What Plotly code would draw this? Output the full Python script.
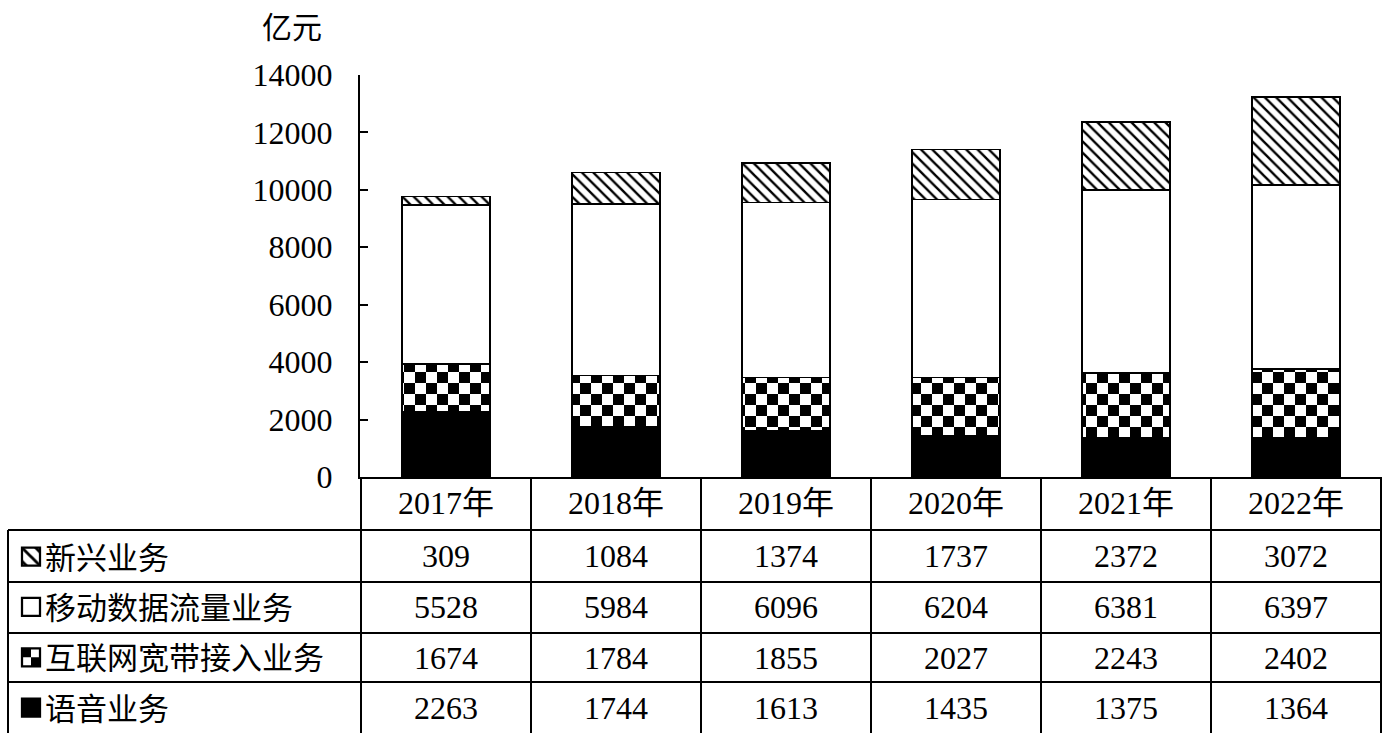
import plotly.graph_objects as go

years = ["2017年", "2018年", "2019年", "2020年", "2021年", "2022年"]
series_names = ["语音业务", "互联网宽带接入业务", "移动数据流量业务", "新兴业务"]
voice = [2263, 1744, 1613, 1435, 1375, 1364]
broadband = [1674, 1784, 1855, 2027, 2243, 2402]
mobile_data = [5528, 5984, 6096, 6204, 6381, 6397]
emerging = [309, 1084, 1374, 1737, 2372, 3072]
y_ticks = [0, 2000, 4000, 6000, 8000, 10000, 12000, 14000]
unit_label = "亿元"

W, H = 1389, 733
ML, MR, MT, MB = 360, 7, 75, 256
PH = H - MT - MB
PW = W - ML - MR

def py(p):
    return (H - MB - p) / PH

def px(p):
    return (p - ML) / PW

serif = "Liberation Serif, Noto Sans CJK SC"
cjk = "Noto Sans CJK SC"
line = dict(color="black", width=1.5)

fig = go.Figure()
fig.add_trace(go.Bar(x=years, y=voice, name=series_names[0], legendgroup="a", legendrank=4,
                     marker=dict(color="black", line=line)))
fig.add_trace(go.Bar(x=years, y=broadband, name=series_names[1], legendgroup="b", legendrank=3,
                     marker=dict(color="white", line=line,
                                 pattern=dict(shape="+", fgcolor="rgb(1,1,1)", bgcolor="white",
                                              size=11, solidity=0.5, fillmode="replace"))))
fig.add_trace(go.Bar(x=years, y=mobile_data, name=series_names[2], legendgroup="c", legendrank=2,
                     marker=dict(color="white", line=line)))
fig.add_trace(go.Bar(x=years, y=emerging, name=series_names[3], legendgroup="d", legendrank=1,
                     marker=dict(color="white", line=line,
                                 pattern=dict(shape="\\", fgcolor="black", bgcolor="white",
                                              size=8, solidity=0.3, fillmode="replace"))))

shapes = []
blk = dict(color="black", width=2)
# horizontal table lines
for p in [530, 582, 633, 682]:
    shapes.append(dict(type="line", xref="paper", yref="paper", x0=px(8), x1=1,
                       y0=py(p), y1=py(p), line=blk))
# column separators
for k in range(len(years) + 1):
    shapes.append(dict(type="line", xref="x", yref="paper", x0=k - 0.5, x1=k - 0.5,
                       y0=0, y1=py(H + 5), line=blk))
# left border of label column
shapes.append(dict(type="line", xref="paper", yref="paper", x0=px(8), x1=px(8),
                   y0=py(530), y1=py(H + 5), line=blk))

annotations = []
annotations.append(dict(text=unit_label, xref="paper", yref="paper", x=px(292), y=py(25),
                        xanchor="center", yanchor="middle",
                        showarrow=False, font=dict(family=cjk, size=30, color="black")))
for i, yr in enumerate(years):
    annotations.append(dict(text=yr, xref="x", yref="paper", x=yr, y=py(503), showarrow=False,
                            xanchor="center", yanchor="middle",
                            font=dict(family=serif, size=32, color="black")))
rows = [(emerging, 556), (mobile_data, 607), (broadband, 658), (voice, 708)]
for vals, pc in rows:
    for yr, v in zip(years, vals):
        annotations.append(dict(text=str(v), xref="x", yref="paper", x=yr, y=py(pc),
                                xanchor="center", yanchor="middle",
                                showarrow=False, font=dict(family=serif, size=32, color="black")))

fig.update_layout(
    width=W, height=H,
    margin=dict(l=ML, r=MR, t=MT, b=MB, pad=0, autoexpand=False),
    paper_bgcolor="white", plot_bgcolor="white",
    barmode="stack", bargap=0.48,
    showlegend=True,
    legend=dict(x=px(5), y=py(530), xanchor="left", yanchor="top",
                traceorder="grouped", tracegroupgap=7,
                font=dict(family=cjk, size=31, color="black"),
                bgcolor="rgba(0,0,0,0)", borderwidth=0),
    xaxis=dict(showticklabels=False, ticks="", showline=True, linecolor="black", linewidth=2,
               showgrid=False, zeroline=False, fixedrange=True, automargin=False),
    yaxis=dict(range=[0, 14000], tickvals=y_ticks, ticktext=[str(t) for t in y_ticks],
               ticks="inside", ticklen=8, tickwidth=2,
               tickcolor="black", showline=True, linecolor="black", linewidth=2,
               showgrid=False, zeroline=False, ticklabelstandoff=19, automargin=False,
               tickfont=dict(family=serif, size=32, color="black"), fixedrange=True),
    shapes=shapes,
    annotations=annotations,
)

post = """
document.body.style.margin = '0';
document.body.style.padding = '0';
var gd = document.getElementById('{plot_id}');
function fixChecker(){
  var ns = 'http://www.w3.org/2000/svg';
  var pats = document.querySelectorAll('pattern');
  pats.forEach(function(p){
    if (p.getAttribute('data-checker')) return;
    var h = p.innerHTML;
    if (h.indexOf('rgb(1, 1, 1)') < 0 && h.indexOf('rgb(1,1,1)') < 0 && h.indexOf('#010101') < 0) return;
    var s = (p.id.indexOf('legend') >= 0) ? 6 : 11;
    while (p.firstChild) p.removeChild(p.firstChild);
    p.setAttribute('width', 2*s); p.setAttribute('height', 2*s);
    p.removeAttribute('patternTransform');
    p.setAttribute('data-checker', '1');
    [[0,0,2*s,2*s,'#ffffff'],[0,0,s,s,'#000000'],[s,s,s,s,'#000000']].forEach(function(r){
      var e = document.createElementNS(ns, 'rect');
      e.setAttribute('x', r[0]); e.setAttribute('y', r[1]);
      e.setAttribute('width', r[2]); e.setAttribute('height', r[3]);
      e.setAttribute('fill', r[4]);
      p.appendChild(e);
    });
  });
  document.querySelectorAll('.legend .legendpoints path').forEach(function(el){
    if (el.getAttribute('data-scaled')) return;
    var t = el.getAttribute('transform') || '';
    el.setAttribute('transform', t + ' translate(6,0) scale(1.5)');
    el.setAttribute('data-scaled', '1');
  });
}
fixChecker();
if (gd && gd.on) { gd.on('plotly_afterplot', fixChecker); }
"""

fig.write_html("out.html", post_script=post, config={"displayModeBar": False})
